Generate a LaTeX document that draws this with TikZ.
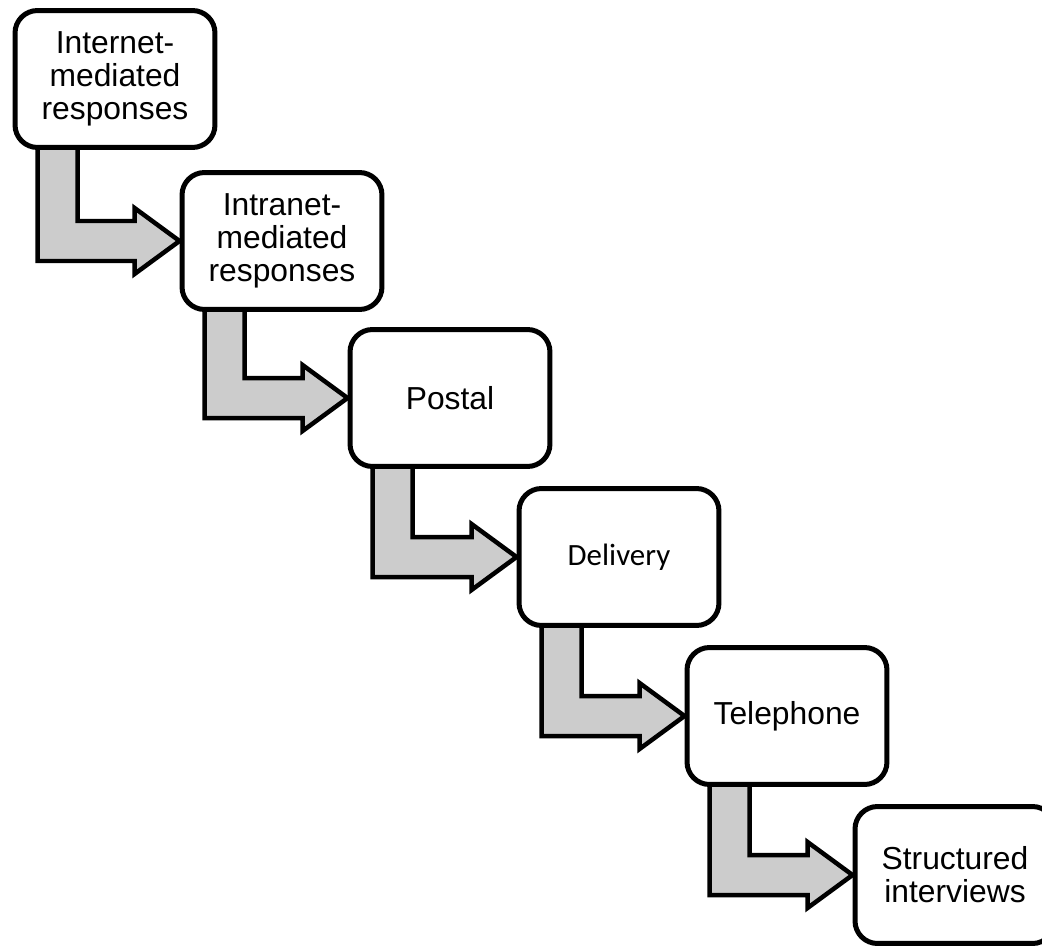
\documentclass[tikz,border=0pt]{standalone}
\usepackage{fontspec}
\setmainfont{Liberation Sans}
\newfontfamily\carlito{Carlito}
\usetikzlibrary{calc}
\usetikzlibrary{backgrounds}

\tikzset{
  stagebox/.style={draw, fill=white, line width=0.1cm, rounded corners=0.45cm,
    minimum width=4cm, minimum height=2.74cm, align=center,
    font=\fontsize{18.1pt}{18.8pt}\selectfont},
  flowarrow/.style={draw, fill=black!20, line width=0.09cm, line join=miter}
}

% bent arrow from the bottom of #1 into the left side of #2
\newcommand{\bentarrow}[2]{%
  \path ($(#1.south west)+(25,-6)$) coordinate (sa)
        ($(#1.south west)+(65,-6)$) coordinate (sb)
        ($(#2.west)+(0,20)$) coordinate (lo)
        ($(#2.west)+(0,-20)$) coordinate (hi)
        ($(#2.west)+(-45,0)$) coordinate (hb);
  \begin{pgfonlayer}{background}
  \draw[flowarrow] (sa) -- (sa |- lo) -- (hb |- lo) -- ($(hb)+(0,33)$)
    -- (#2.west) -- ($(hb)+(0,-33)$) -- (hb |- hi) -- (sb |- hi) -- (sb) -- cycle;
  \end{pgfonlayer}
}

\begin{document}
\begin{tikzpicture}[x=0.02cm, y=-0.02cm]

\useasboundingbox (0,0) rectangle (1042,946);

% stages
\node[stagebox] (internet) at (115,79) {Internet-\\mediated\\responses};
\node[stagebox] (intranet) at (282,241) {Intranet-\\mediated\\responses};
\node[stagebox] (postal) at (450,398) {Postal};
\node[stagebox, font=\carlito\fontsize{17.6pt}{18.8pt}\selectfont] (delivery) at (619,557) {Delivery};
\node[stagebox] (telephone) at (787,716) {Telephone};
\node[stagebox] (structured) at (955,875) {Structured\\interviews};

% arrows
\bentarrow{internet}{intranet}
\bentarrow{intranet}{postal}
\bentarrow{postal}{delivery}
\bentarrow{delivery}{telephone}
\bentarrow{telephone}{structured}

\end{tikzpicture}
\end{document}
